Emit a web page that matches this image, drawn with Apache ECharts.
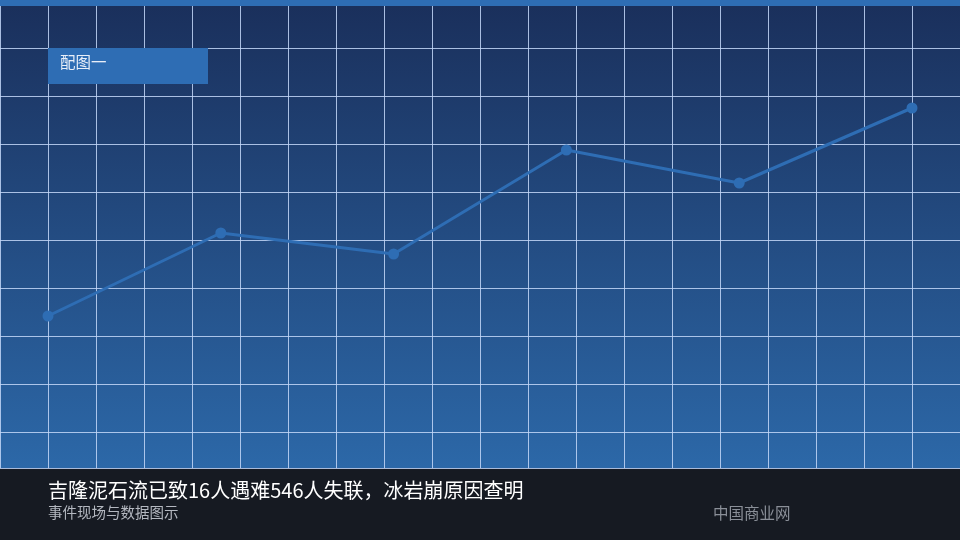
<!DOCTYPE html>
<html>
<head>
<meta charset="utf-8">
<script src="https://cdn.jsdelivr.net/npm/echarts@6/dist/echarts.min.js"></script>
<style>
  html, body { margin: 0; padding: 0; background: #161a22; }
  #chart { width: 960px; height: 540px; }
</style>
</head>
<body>
<div id="chart"></div>
<script>
// 数据
const categories = ['1', '2', '3', '4', '5', '6']
const values = [152, 235, 214, 318, 285, 360]
const titleText = '吉隆泥石流已致16人遇难546人失联，冰岩崩原因查明'
const subText = '事件现场与数据图示'
const sourceText = '中国商业网'
const tagText = '配图一'

const chart = echarts.init(document.getElementById('chart'))
const font = '"Noto Sans CJK SC", "Noto Sans", sans-serif'

const option = {
  backgroundColor: '#161a22',
  animation: false,
  graphic: [
    {
      // 背景渐变
      type: 'rect', z: -10,
      shape: { x: 0, y: 0, width: 960, height: 468 },
      style: {
        fill: new echarts.graphic.LinearGradient(0, 0, 0, 1, [
          { offset: 0, color: '#1a2f5b' },
          { offset: 1, color: '#2c68a8' }
        ])
      }
    },
    {
      type: 'rect', z: 10,
      shape: { x: 0, y: 0, width: 960, height: 6 },
      style: { fill: '#2e6db4' }
    },
    {
      type: 'rect', z: 10,
      shape: { x: 48, y: 48, width: 160, height: 36 },
      style: { fill: '#2e6db4' }
    },
    {
      type: 'text', z: 11, left: 60, top: 54,
      style: { text: tagText, fill: '#e8eef8', font: '15.5px ' + font }
    },
    {
      type: 'text', left: 48, top: 480,
      style: { text: titleText, fill: '#ffffff', font: '20px ' + font }
    },
    {
      type: 'text', left: 48, top: 505,
      style: { text: subText, fill: '#b4b8c0', font: '14.5px ' + font }
    },
    {
      type: 'text', left: 713, top: 505,
      style: { text: sourceText, fill: '#8a8f98', font: '15.5px ' + font }
    }
  ],
  grid: [
    // 背景网格
    { left: 0, right: 0, top: 0, height: 468 },
    // 折线
    { left: 48, right: 48, top: 0, height: 468 }
  ],
  xAxis: [
    {
      gridIndex: 0, type: 'value', min: 0, max: 960, interval: 48,
      axisLine: { show: false }, axisTick: { show: false }, axisLabel: { show: false },
      splitLine: { show: true, lineStyle: { color: 'rgba(195,215,248,0.85)', width: 1 } }
    },
    {
      gridIndex: 1, type: 'category', data: categories, boundaryGap: false,
      axisLine: { show: false }, axisTick: { show: false }, axisLabel: { show: false },
      splitLine: { show: false }
    }
  ],
  yAxis: [
    {
      gridIndex: 0, type: 'value', min: 0, max: 468, interval: 48, inverse: true,
      axisLine: { show: false }, axisTick: { show: false }, axisLabel: { show: false },
      splitLine: { show: true, lineStyle: { color: 'rgba(195,215,248,0.85)', width: 1 } }
    },
    {
      gridIndex: 1, type: 'value', min: 0, max: 468,
      axisLine: { show: false }, axisTick: { show: false }, axisLabel: { show: false },
      splitLine: { show: false }
    }
  ],
  series: [
    {
      type: 'line', xAxisIndex: 1, yAxisIndex: 1, z: 5,
      data: values,
      symbol: 'circle', symbolSize: 11,
      lineStyle: { color: '#2e6db4', width: 3 },
      itemStyle: { color: '#2e6db4' }
    }
  ]
}
chart.setOption(option)
</script>
</body>
</html>
